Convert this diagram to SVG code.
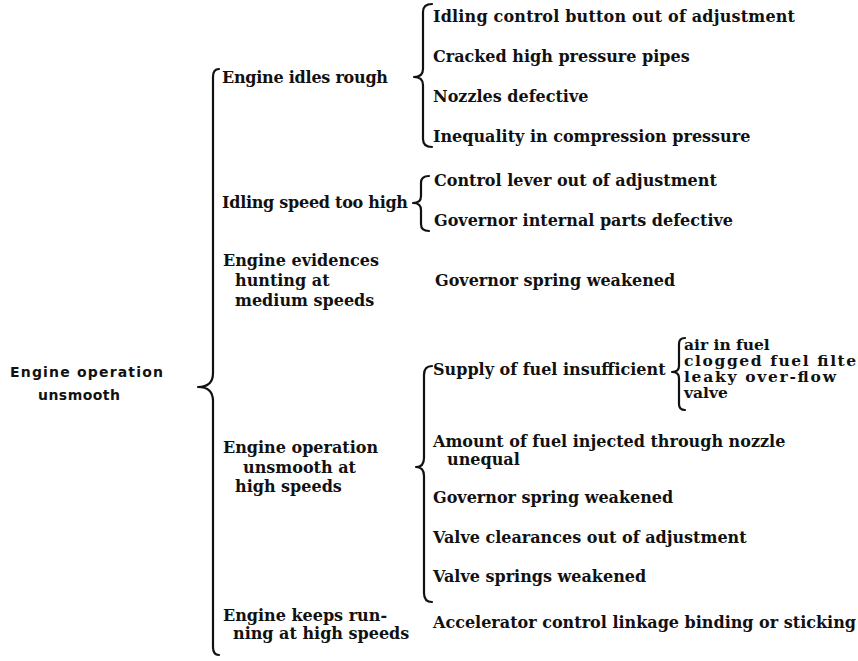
<svg xmlns="http://www.w3.org/2000/svg" width="858" height="661" viewBox="0 0 858 661">
  <style>
    .root { font-family: "DejaVu Sans", "Liberation Sans", sans-serif; font-weight: bold; font-size: 14px; fill: #111; }
    .t { font-family: "DejaVu Serif", "Liberation Serif", serif; font-weight: bold; font-size: 16px; fill: #111; }
    .s { font-family: "DejaVu Serif", "Liberation Serif", serif; font-weight: bold; font-size: 15.5px; fill: #111; }
    .brace { fill: none; stroke: #111; stroke-width: 2.2; stroke-linecap: round; stroke-linejoin: round; }
  </style>
  <rect width="858" height="661" fill="#fff"/>

  <!-- braces joining each cause to its sub-causes -->
  <g id="connectors">
    <path class="brace" d="M219,69 Q213,69 213,77 L213,373 Q213,387 198,387 Q213,387 213,401 L213,647 Q213,655 219,655"/>
    <path class="brace" d="M432,4 Q423,4 423,12 L423,69 Q423,77 414,77 Q423,77 423,85 L423,139 Q423,147 432,147"/>
    <path class="brace" d="M429,176 Q421,176 421,183 L421,196 Q421,203 413,203 Q421,203 421,210 L421,224 Q421,231 429,231"/>
    <path class="brace" d="M432,366 Q424,366 424,375 L424,458 Q424,467 416,467 Q424,467 424,476 L424,593 Q424,602 432,602"/>
    <path class="brace" d="M685,338 Q679,338 679,344 L679,366 Q679,372 672,372 Q679,372 679,378 L679,404 Q679,410 685,410"/>
  </g>

  <g id="root">
    <text class="root" x="10" y="377" textLength="153" lengthAdjust="spacing">Engine operation</text>
    <text class="root" x="38" y="400" textLength="82" lengthAdjust="spacing">unsmooth</text>
  </g>

  <g id="idles-rough">
    <text class="t" x="222" y="83" textLength="166" lengthAdjust="spacing">Engine idles rough</text>
  </g>
  <g id="idles-rough-causes">
    <text class="t" x="433" y="22" textLength="362" lengthAdjust="spacing">Idling control button out of adjustment</text>
    <text class="t" x="433" y="62">Cracked high pressure pipes</text>
    <text class="t" x="433" y="102">Nozzles defective</text>
    <text class="t" x="433" y="142">Inequality in compression pressure</text>
  </g>

  <g id="idling-high">
    <text class="t" x="222" y="208" textLength="186" lengthAdjust="spacing">Idling speed too high</text>
  </g>
  <g id="idling-high-causes">
    <text class="t" x="434" y="186">Control lever out of adjustment</text>
    <text class="t" x="434" y="226">Governor internal parts defective</text>
  </g>

  <g id="hunting">
    <text class="t" x="223" y="266">Engine evidences</text>
    <text class="t" x="235" y="286">hunting at</text>
    <text class="t" x="235" y="306">medium speeds</text>
  </g>
  <g id="hunting-cause">
    <text class="t" x="435" y="286">Governor spring weakened</text>
  </g>

  <g id="high-speeds">
    <text class="t" x="223" y="453">Engine operation</text>
    <text class="t" x="243" y="473">unsmooth at</text>
    <text class="t" x="235" y="492">high speeds</text>
  </g>
  <g id="high-speeds-causes">
    <text class="t" x="433" y="375">Supply of fuel insufficient</text>
    <text class="t" x="433" y="447">Amount of fuel injected through nozzle</text>
    <text class="t" x="447" y="465">unequal</text>
    <text class="t" x="433" y="503">Governor spring weakened</text>
    <text class="t" x="433" y="543">Valve clearances out of adjustment</text>
    <text class="t" x="433" y="582">Valve springs weakened</text>
  </g>
  <!-- the last line runs past the right edge and is clipped there -->
  <g id="fuel-supply-causes">
    <text class="s" x="684" y="350">air in fuel</text>
    <text class="s" x="684" y="366" textLength="182" lengthAdjust="spacing">clogged fuel filter</text>
    <text class="s" x="684" y="382" textLength="152" lengthAdjust="spacing">leaky over-flow</text>
    <text class="s" x="684" y="398">valve</text>
  </g>

  <g id="runs-on">
    <text class="t" x="223" y="621">Engine keeps run-</text>
    <text class="t" x="233" y="639">ning at high speeds</text>
  </g>
  <g id="runs-on-cause">
    <text class="t" x="433" y="628">Accelerator control linkage binding or sticking</text>
  </g>
</svg>
